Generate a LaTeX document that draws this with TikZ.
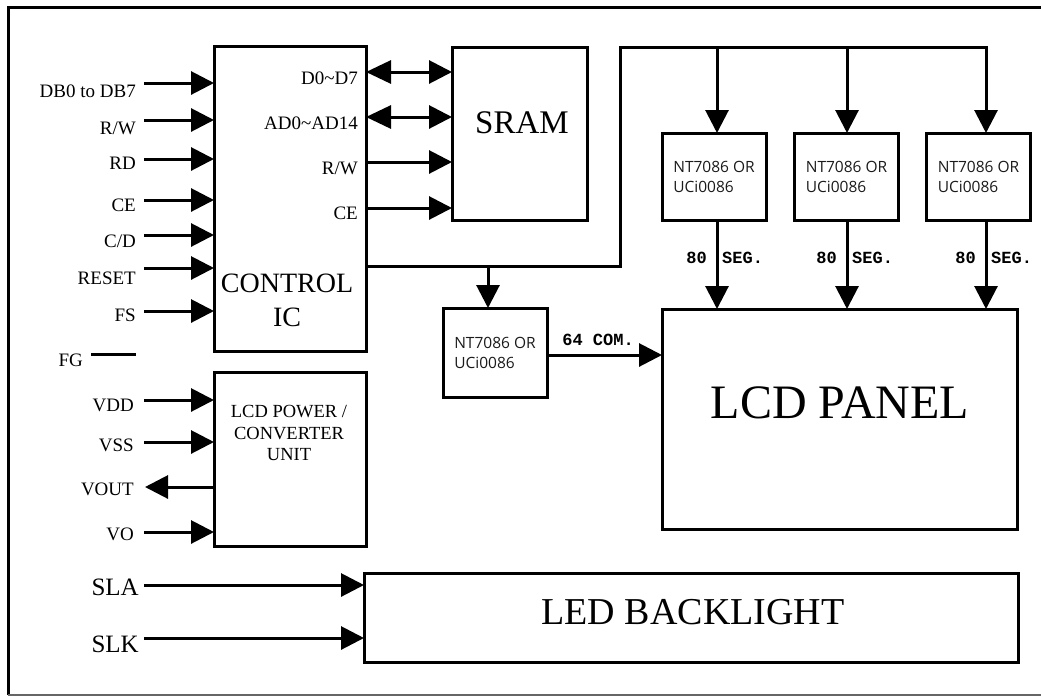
\documentclass[tikz,border=0pt]{standalone}
\usepackage{fontspec}
\setmainfont{Liberation Serif}
\newfontfamily\monof{Liberation Mono}
\newfontfamily\chipf{Open Sans}
\usetikzlibrary{arrows.meta}
\definecolor{ink}{HTML}{1A1A1A}
\begin{document}
\begin{tikzpicture}[x=1pt,y=-1pt,
  blk/.style={draw,line width=3pt,inner sep=0pt,outer sep=0pt},
  wire/.style={line width=3pt},
  arr/.style={wire,-{Triangle[length=23pt,width=23pt]}},
  bidir/.style={wire,{Triangle[length=25pt,width=23pt]}-{Triangle[length=23pt,width=23pt]}},
  lbl/.style={font=\fontsize{19}{21}\selectfont,inner sep=0pt},
  seglbl/.style={font=\monof\bfseries\fontsize{17}{19}\selectfont,inner sep=0pt},
  chip/.style={blk,minimum width=104pt,font=\chipf\fontsize{15.5}{20}\selectfont,text=ink,align=left}
]
\useasboundingbox (0,0) rectangle (1041,697);
% outer frame
\draw[line width=3pt] (1045,7) -- (8,7) -- (8,695);
\draw[line width=1.5pt,black!60] (8,695) -- (1045,695);

% blocks
\node[blk,minimum width=152pt,minimum height=305pt] (ctl) at (290,198.5) {};
\node[inner sep=0pt,align=center,font=\fontsize{28}{34}\selectfont] (ctltxt) at (287,300) {CONTROL\\IC};
\node[blk,minimum width=135pt,minimum height=173pt] (sram) at (519.5,133.5) {};
\node[inner sep=0pt,font=\fontsize{33}{36}\selectfont] (sramtxt) at (522,123) {SRAM};
\node[blk,minimum width=152pt,minimum height=174pt] (pw) at (290,459) {};
\node[inner sep=0pt,align=center,font=\fontsize{18.5}{21.5}\selectfont] (pwtxt) at (289,433) {LCD POWER /\\CONVERTER\\UNIT};
\node[chip,minimum height=87pt] (c1) at (714,176.5) {NT7086 OR\\UCi0086};
\node[chip,minimum height=87pt] (c2) at (846.5,176.5) {NT7086 OR\\UCi0086};
\node[chip,minimum height=87pt] (c3) at (978.5,176.5) {NT7086 OR\\UCi0086};
\node[chip,minimum height=89pt] (lc) at (495,352.5) {NT7086 OR\\UCi0086};
\node[blk,minimum width=355pt,minimum height=220pt] (lcd) at (839.5,419) {};
\node[inner sep=0pt,font=\fontsize{48}{50}\selectfont] (lcdtxt) at (840,403) {LCD PANEL};
\node[blk,minimum width=654pt,minimum height=89pt] (led) at (691,617.5) {};
\node[inner sep=0pt,font=\fontsize{38}{40}\selectfont] (ledtxt) at (693,612) {LED BACKLIGHT};

% control IC inputs
\foreach \n/\ly/\ty/\t in {iDB/83/91/{DB0 to DB7}, iRW/120/128/{R/W}, iRD/159/163/{RD}, iCE/200/205/{CE}, iCD/235/241/{C/D}, iRS/268/278/{RESET}, iFS/311/315/{FS}}{
  \coordinate (\n) at (144,\ly);
  \draw[arr] (\n) -- (\n -| ctl.west);
  \node[lbl,anchor=east] (l\n) at (136,\ty) {\t};
}
% FG
\coordinate (fg1) at (91,354);
\coordinate (fg2) at (136,354);
\draw[wire] (fg1) -- (fg2);
\node[lbl,anchor=east] (lfg) at (83,360) {FG};

% control IC to SRAM
\coordinate (yD) at (0,72);
\coordinate (yA) at (0,117);
\coordinate (yR) at (0,162);
\coordinate (yC) at (0,208);
\draw[bidir] (ctl.east |- yD) -- (sram.west |- yD);
\draw[bidir] (ctl.east |- yA) -- (sram.west |- yA);
\draw[arr] (ctl.east |- yR) -- (sram.west |- yR);
\draw[arr] (ctl.east |- yC) -- (sram.west |- yC);
\node[lbl,anchor=east] (lD) at (358,78) {D0\textasciitilde D7};
\node[lbl,anchor=east] (lA) at (358,123) {AD0\textasciitilde AD14};
\node[lbl,anchor=east] (lR) at (358,168) {R/W};
\node[lbl,anchor=east] (lC) at (358,213) {CE};

% bus to drivers
\coordinate (bx) at (620,266);
\coordinate (by) at (620,47);
\coordinate (d1) at (717,47);
\coordinate (d2) at (847,47);
\coordinate (d3) at (986,47);
\coordinate (d0) at (488,266);
\draw[arr] (ctl.east |- bx) -- (bx) -- (by) -- (d3) -- (d3 |- c3.north);
\draw[arr] (d1) -- (d1 |- c1.north);
\draw[arr] (d2) -- (d2 |- c2.north);
\draw[arr] (d0) -- (d0 |- lc.north);

% segment lines
\foreach \d/\c in {d1/c1, d2/c2, d3/c3}{
  \draw[arr] (\d |- \c.south) -- (\d |- lcd.north);
}
\foreach \x in {717,847,986}{
  \node[seglbl,anchor=east] (s80\x) at (\x-10,258) {80};
  \node[seglbl,anchor=west] (sseg\x) at (\x+5,258) {SEG.};
}
% common
\coordinate (cm) at (547,355);
\draw[arr] (lc.east |- cm) -- (cm -| lcd.west);
\node[seglbl] (lcom) at (598,340) {64 COM.};

% power unit
\foreach \n/\ly/\ty/\t in {pVDD/400/405/{VDD}, pVSS/442/445/{VSS}, pVO/532/534/{VO}}{
  \coordinate (\n) at (144,\ly);
  \draw[arr] (\n) -- (\n -| pw.west);
  \node[lbl,anchor=east] (l\n) at (134,\ty) {\t};
}
\coordinate (pVOUT) at (145,487);
\draw[arr] (pw.west |- pVOUT) -- (pVOUT);
\node[lbl,anchor=east] (lpVOUT) at (134,489) {VOUT};

% backlight
\coordinate (sla) at (144,585);
\coordinate (slk) at (144,638);
\draw[arr] (sla) -- (sla -| led.west);
\draw[arr] (slk) -- (slk -| led.west);
\node[inner sep=0pt,anchor=east,font=\fontsize{25}{27}\selectfont] (lsla) at (139,587) {SLA};
\node[inner sep=0pt,anchor=east,font=\fontsize{25}{27}\selectfont] (lslk) at (139,644) {SLK};
\end{tikzpicture}
\end{document}
